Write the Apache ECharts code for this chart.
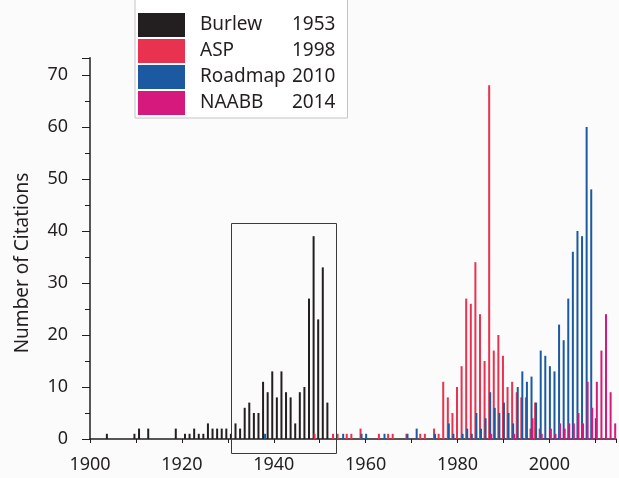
<!DOCTYPE html>
<html>
<head>
<meta charset="utf-8">
<script src="https://cdn.jsdelivr.net/npm/echarts@6/dist/echarts.min.js"></script>
<style>html,body{margin:0;padding:0;background:#fbfbfb;}#c{width:619px;height:478px;}</style>
</head>
<body>
<div id="c"></div>
<script>
// ---- data ----
const seriesNames = ['Burlew', 'ASP', 'Roadmap', 'NAABB'];
const reportYears = ['1953', '1998', '2010', '2014'];

const burlewYears = [1904,1910,1911,1913,1919,1921,1922,1923,1924,1925,1926,1927,1928,1929,1930,1931,1932,1933,1934,1935,1936,1937,1938,1939,1940,1941,1942,1943,1944,1945,1946,1947,1948,1949,1950,1951,1952];
const burlewValues = [1,1,2,2,2,1,1,2,1,1,3,2,2,2,2,1,3,2,6,7,5,5,11,9,13,8,13,9,8,3,9,10,27,39,23,33,7];

const aspYears = [1949,1953,1954,1956,1957,1959,1963,1965,1966,1969,1972,1973,1975,1976,1977,1978,1979,1980,1981,1982,1983,1984,1985,1986,1987,1988,1989,1990,1991,1992,1993,1994,1995,1996,1997,1998];
const aspValues = [1,1,1,1,1,2,1,1,1,1,1,1,2,1,11,8,5,10,14,27,26,34,24,15,68,17,20,16,10,11,9,8,8,2,7,2];

const roadmapYears = [1938,1955,1959,1960,1964,1969,1971,1975,1978,1979,1981,1982,1983,1984,1985,1986,1987,1988,1989,1990,1991,1992,1993,1994,1995,1996,1997,1998,1999,2000,2001,2002,2003,2004,2005,2006,2007,2008,2009,2010];
const roadmapValues = [1,1,1,1,1,1,2,1,3,1,1,2,1,5,2,4,9,6,5,7,5,3,10,13,11,12,7,17,16,14,13,22,19,27,36,40,39,60,48,4];

const naabbYears = [1987,1992,1996,1998,2000,2001,2002,2003,2004,2005,2006,2007,2008,2009,2010,2011,2012,2013,2014];
const naabbValues = [1,1,4,1,2,1,3,2,3,3,5,3,11,6,11,17,24,9,3];

const xTickYears = [1900, 1920, 1940, 1960, 1980, 2000];
const yTickValues = [0, 10, 20, 30, 40, 50, 60, 70];
const boxYears = [1930.7, 1953.5];   // highlighted Burlew span
const boxValues = [-2.7, 41.5];
const yTitle = 'Number of Citations';

// ---- chart ----
const colors = ['#231f20', '#e8324f', '#1b5aa0', '#d6197c'];
const FONT = 'Noto Sans';
const pairs = (ys, vs) => ys.map((y, i) => [y, vs[i]]);
const allData = [
  pairs(burlewYears, burlewValues),
  pairs(aspYears, aspValues),
  pairs(roadmapYears, roadmapValues),
  pairs(naabbYears, naabbValues)
];

const chart = echarts.init(document.getElementById('c'), null, {renderer: 'canvas'});
const option = {
  animation: false,
  backgroundColor: '#fbfbfb',
  textStyle: {fontFamily: FONT},
  grid: {left: 90, right: 3, top: 57.8, bottom: 39, containLabel: false},
  legend: {
    orient: 'vertical',
    left: 135, top: -2,
    padding: [15, 12, 3, 3],
    itemWidth: 47, itemHeight: 24, itemGap: 2,
    icon: 'rect',
    selectedMode: false,
    backgroundColor: '#ffffff',
    borderColor: '#c4c4c4', borderWidth: 1,
    data: seriesNames,
    formatter: name => '{n|' + name + '}{y|' + reportYears[seriesNames.indexOf(name)] + '}',
    textStyle: {
      fontFamily: FONT, fontSize: 19, color: '#231f20',
      rich: {
        n: {fontFamily: FONT, fontSize: 19, color: '#231f20', width: 92, padding: [0, 0, 0, 10]},
        y: {fontFamily: FONT, fontSize: 19, color: '#231f20'}
      }
    }
  },
  xAxis: {
    type: 'value', min: 1900, max: 2014.5, interval: 10,
    axisLine: {show: true, onZero: false, lineStyle: {color: '#231f20', width: 1.5}},
    axisTick: {show: true, length: 4, lineStyle: {color: '#231f20'}},
    splitLine: {show: false},
    axisLabel: {
      fontFamily: FONT, fontSize: 18, color: '#231f20', margin: 17,
      formatter: v => xTickYears.includes(v) ? String(v) : ''
    }
  },
  yAxis: {
    type: 'value', min: 0, max: 73.3, interval: 10,
    axisLine: {show: true, lineStyle: {color: '#231f20', width: 1.5}},
    axisTick: {show: true, length: 8, lineStyle: {color: '#231f20'}},
    minorTick: {show: true, splitNumber: 2, length: 5, lineStyle: {color: '#231f20'}},
    splitLine: {show: false},
    axisLabel: {
      fontFamily: FONT, fontSize: 18, color: '#231f20', margin: 22,
      formatter: v => yTickValues.includes(v) ? String(v) : ''
    }
  },
  series: seriesNames.map((name, i) => ({
    name: name,
    type: 'bar',
    data: allData[i],
    barWidth: 2,
    barGap: '-50%',
    itemStyle: {color: colors[i]},
    emphasis: {disabled: true},
    silent: true
  }))
};
chart.setOption(option);

const p1 = chart.convertToPixel({gridIndex: 0}, [boxYears[0], boxValues[1]]);
const p2 = chart.convertToPixel({gridIndex: 0}, [boxYears[1], boxValues[0]]);
chart.setOption({
  graphic: [
    {
      type: 'rect', silent: true, z: 100,
      shape: {x: Math.round(p1[0]) + 0.5, y: Math.round(p1[1]) + 0.5, width: Math.round(p2[0] - p1[0]), height: Math.round(p2[1] - p1[1])},
      style: {fill: 'none', stroke: '#3a3a3a', lineWidth: 1}
    },
    {
      type: 'text', silent: true, x: 23, y: 263, rotation: Math.PI / 2,
      style: {text: yTitle, fontFamily: FONT, fontSize: 19, fill: '#231f20', textAlign: 'center', textVerticalAlign: 'middle'}
    }
  ]
});
</script>
</body>
</html>
